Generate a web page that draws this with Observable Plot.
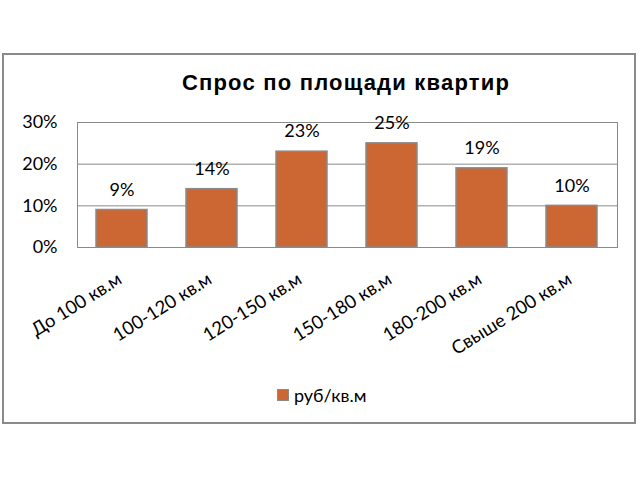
<!DOCTYPE html>
<html>
<head>
<meta charset="utf-8">
<script src="https://cdn.jsdelivr.net/npm/d3@7"></script>
<script src="https://cdn.jsdelivr.net/npm/@observablehq/plot@0.6"></script>
<style>
  html, body { margin: 0; padding: 0; background: #fff; }
  #page { position: relative; width: 640px; height: 480px; overflow: hidden; }
  #frame { position: absolute; left: 2px; top: 53px; width: 634px; height: 371px; box-sizing: border-box; border: 2px solid #8a8a8a; }
  #title { position: absolute; left: 0; top: 70px; width: 692px; text-align: center; font-family: "Liberation Sans", Arial, sans-serif; font-weight: bold; font-size: 22px; letter-spacing: 1.2px; color: #000; white-space: nowrap; }
  #chart { position: absolute; left: 0; top: 100px; }
  #legend { position: absolute; left: 277px; top: 384px; font-family: Lato, "Open Sans", sans-serif; font-size: 18px; color: #000; display: flex; align-items: center; white-space: nowrap; }
  #legend .sw { width: 10px; height: 10px; background: #CC6633; border: 1px solid #8a8a8a; margin-right: 5px; }
</style>
</head>
<body>
<div id="page">
  <div id="frame"></div>
  <div id="title">Спрос по площади квартир</div>
  <div id="chart"></div>
  <div id="legend"><div class="sw"></div><span>руб/кв.м</span></div>
</div>
<script>
const categories = ["До 100 кв.м", "100-120 кв.м", "120-150 кв.м", "150-180 кв.м", "180-200 кв.м", "Свыше 200 кв.м"];
const values = [0.09, 0.14, 0.23, 0.25, 0.19, 0.10];
const yTicks = [0, 0.1, 0.2, 0.3];
const seriesName = "руб/кв.м";

const data = categories.map((c, i) => ({category: c, value: values[i], series: seriesName}));
const pct = d3.format(".0%");

const chart = Plot.plot({
  width: 640,
  height: 280,
  marginLeft: 77,
  marginRight: 23,
  marginTop: 22,
  marginBottom: 133,
  style: {fontFamily: "Lato, 'Open Sans', sans-serif", background: "transparent", overflow: "visible"},
  x: {domain: categories, paddingInner: 0.43, paddingOuter: 0.215, label: null},
  y: {domain: [0, 0.3], label: null},
  marks: [
    Plot.gridY(yTicks, {stroke: "#8a8a8a", strokeOpacity: 1, strokeWidth: 1}),
    Plot.frame({stroke: "#8a8a8a", strokeWidth: 1}),
    Plot.barY(data, {x: "category", y: "value", fill: "#CC6633", stroke: "#8a8a8a", strokeWidth: 1.5}),
    Plot.text(data, {x: "category", y: "value", text: d => pct(d.value), dy: -20, fontSize: 18, fill: "#000", textAnchor: "middle", lineAnchor: "middle"}),
    Plot.axisY({ticks: yTicks, tickFormat: pct, tickSize: 0, tickPadding: 20, fontSize: 18, label: null}),
    Plot.axisX({tickSize: 0, tickRotate: -32, tickPadding: 30, dx: -2, fontSize: 18.5, label: null})
  ]
});
document.getElementById("chart").appendChild(chart);
</script>
</body>
</html>
